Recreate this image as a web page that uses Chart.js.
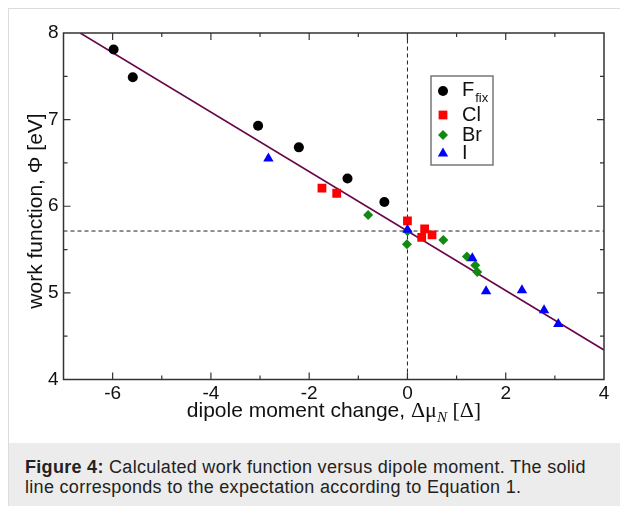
<!DOCTYPE html>
<html>
<head>
<meta charset="utf-8">
<script src="https://cdn.jsdelivr.net/npm/chart.js@4/dist/chart.umd.min.js"></script>
<style>
  html, body { margin: 0; padding: 0; background: #fff; width: 620px; height: 506px; overflow: hidden; }
  #frame { position: absolute; left: 8px; top: 8px; width: 640px; height: 520px; border-left: 1px solid #dcdcdc; border-top: 1px solid #dcdcdc; }
  #cap { position: absolute; left: 9px; top: 443px; width: 611px; height: 63px; background: #ececec;
         box-sizing: border-box; padding: 15px 0 0 16px; font: 18px/19.5px "Liberation Sans", Arial, sans-serif;
         letter-spacing: 0.3px; color: #222; white-space: nowrap; }
  #c { position: absolute; left: 0; top: 0; }
</style>
</head>
<body>
<div id="frame"></div>
<div id="cap"><b>Figure 4:</b> Calculated work function versus dipole moment. The solid<br>line corresponds to the expectation according to Equation 1.</div>
<canvas id="c" width="620" height="443"></canvas>
<script>
// ---- data ----
const fixX = [-5.98, -5.59, -3.04, -2.21, -1.22, -0.47];
const fixY = [7.81, 7.49, 6.93, 6.68, 6.32, 6.05];
const clX = [-1.74, -1.44, 0.00, 0.35, 0.50, 0.29];
const clY = [6.21, 6.15, 5.83, 5.74, 5.67, 5.64];
const brX = [-0.80, 0.00, -0.01, 0.73, 1.21, 1.38, 1.42];
const brY = [5.90, 5.71, 5.56, 5.61, 5.42, 5.32, 5.24];
const iX = [-2.83, 0.00, 1.32, 1.60, 2.33, 2.78, 3.07];
const iY = [6.55, 5.73, 5.40, 5.02, 5.03, 4.80, 4.64];
const fitX = [-6.66, 4.0];
const fitY = [8.0, 4.34];
const refX0 = 0;          // vertical dashed line
const refY0 = 5.714;      // horizontal dashed line
const xTickLabels = [-6, -4, -2, 0, 2, 4];
const yTickLabels = [4, 5, 6, 7, 8];
const seriesNames = ['F', 'Cl', 'Br', 'I'];

const pts = (xs, ys) => xs.map((x, i) => ({ x: x, y: ys[i] }));
const SANS = '"Liberation Sans", Arial, Helvetica, sans-serif';
const SERIF = '"Liberation Serif", "Times New Roman", serif';

const datasets = [
  { label: 'F', data: pts(fixX, fixY), pointStyle: 'circle', pointRadius: 5, backgroundColor: '#000', borderColor: '#000', borderWidth: 0, order: 4 },
  { label: 'Cl', data: pts(clX, clY), pointStyle: 'rect', pointRadius: 6.2, backgroundColor: '#ff0000', borderColor: '#ff0000', borderWidth: 0, order: 3 },
  { label: 'Br', data: pts(brX, brY), pointStyle: 'rectRot', pointRadius: 5, backgroundColor: '#108a10', borderColor: '#108a10', borderWidth: 0, order: 2 },
  { label: 'I', data: pts(iX, iY), pointStyle: 'triangle', pointRadius: 6, backgroundColor: '#0000ff', borderColor: '#0000ff', borderWidth: 0, order: 1 },
  { label: 'fit', type: 'line', data: pts(fitX, fitY), borderColor: '#67074a', borderWidth: 1.6, pointRadius: 0, fill: false, order: 10 },
  { label: 'h', type: 'line', data: pts([-7, 4], [refY0, refY0]), borderColor: '#222', borderWidth: 1, borderDash: [4, 3], pointRadius: 0, fill: false, order: 11 },
  { label: 'v', type: 'line', data: pts([refX0, refX0], [4, 8]), borderColor: '#222', borderWidth: 1, borderDash: [4, 3], pointRadius: 0, fill: false, order: 11 }
];

function drawMarker(ctx, ds, x, y) {
  ctx.save();
  ctx.fillStyle = ds.backgroundColor;
  ctx.strokeStyle = ds.borderColor;
  if (Chart.helpers && Chart.helpers.drawPoint) {
    ctx.lineWidth = 0.001;
    Chart.helpers.drawPoint(ctx, { pointStyle: ds.pointStyle, radius: ds.pointRadius, rotation: 0, borderWidth: 0 }, x, y);
  } else {
    ctx.beginPath(); ctx.arc(x, y, ds.pointRadius, 0, Math.PI * 2); ctx.fill();
  }
  ctx.restore();
}

const decor = {
  id: 'decor',
  afterDraw(chart) {
    const ctx = chart.ctx, a = chart.chartArea, xs = chart.scales.x, ys = chart.scales.y;
    ctx.save();
    // frame
    ctx.strokeStyle = '#333'; ctx.lineWidth = 1.5;
    ctx.strokeRect(a.left, a.top, a.right - a.left, a.bottom - a.top);
    // inward ticks on all sides
    ctx.lineWidth = 1.2;
    ctx.beginPath();
    xs.ticks.forEach(t => {
      const px = xs.getPixelForValue(t.value);
      if (px <= a.left + 1 || px >= a.right - 1) return;
      const len = xTickLabels.includes(t.value) ? 7 : 4;
      ctx.moveTo(px, a.bottom); ctx.lineTo(px, a.bottom - len);
      ctx.moveTo(px, a.top); ctx.lineTo(px, a.top + len);
    });
    ys.ticks.forEach(t => {
      const py = ys.getPixelForValue(t.value);
      if (py <= a.top + 1 || py >= a.bottom - 1) return;
      const len = yTickLabels.includes(t.value) ? 7 : 4;
      ctx.moveTo(a.left, py); ctx.lineTo(a.left + len, py);
      ctx.moveTo(a.right, py); ctx.lineTo(a.right - len, py);
    });
    ctx.stroke();

    // y title
    ctx.fillStyle = '#111';
    ctx.save();
    ctx.translate(42, 211);
    ctx.rotate(-Math.PI / 2);
    ctx.font = '21px ' + SANS;
    ctx.textAlign = 'center'; ctx.textBaseline = 'alphabetic';
    ctx.fillText('work function, \u03A6 [eV]', 0, 0);
    ctx.restore();

    // x title (mixed fonts)
    const parts = [
      { t: 'dipole moment change, ', f: '21px ' + SANS, dy: 0 },
      { t: '\u0394\u03BC', f: '22px ' + SERIF, dy: 0 },
      { t: 'N', f: 'italic 15px ' + SERIF, dy: 5 },
      { t: ' [\u0394]', f: '22px ' + SERIF, dy: 0 }
    ];
    let w = 0;
    parts.forEach(p => { ctx.font = p.f; p.w = ctx.measureText(p.t).width; w += p.w; });
    let x0 = 334 - w / 2;
    ctx.textAlign = 'left'; ctx.textBaseline = 'alphabetic';
    parts.forEach(p => { ctx.font = p.f; ctx.fillText(p.t, x0, 416.5 + p.dy); x0 += p.w; });

    // legend
    ctx.strokeStyle = '#777'; ctx.lineWidth = 1.5;
    ctx.strokeRect(431, 76, 62, 89);
    const rows = [91, 115, 135, 153.5];
    const bases = [96, 120.5, 140.5, 159];
    for (let i = 0; i < 4; i++) {
      drawMarker(ctx, chart.data.datasets[i], 443, rows[i]);
      ctx.fillStyle = '#111';
      ctx.font = '20px ' + SANS;
      ctx.fillText(seriesNames[i], 462, bases[i]);
      if (i === 0) {
        const fw = ctx.measureText('F').width;
        ctx.font = '13px ' + SANS;
        ctx.fillText('fix', 462 + fw + 1, 101.5);
      }
    }
    ctx.restore();
  }
};

new Chart(document.getElementById('c'), {
  type: 'scatter',
  data: { datasets: datasets },
  options: {
    responsive: false,
    animation: false,
    devicePixelRatio: 1,
    layout: { padding: { left: 0, top: 33, right: 16, bottom: 0 } },
    plugins: { legend: { display: false }, tooltip: { enabled: false } },
    scales: {
      x: {
        type: 'linear', min: -7, max: 4,
        afterFit: s => { s.height = 63.5; },
        grid: { display: false, drawTicks: false },
        border: { display: false },
        ticks: {
          stepSize: 1, autoSkip: false, maxRotation: 0, padding: 3,
          color: '#111', font: { family: SANS, size: 19 },
          callback: v => xTickLabels.includes(v) ? String(v) : ''
        }
      },
      y: {
        type: 'linear', min: 4, max: 8,
        afterFit: s => { s.width = 63.5; },
        grid: { display: false, drawTicks: false },
        border: { display: false },
        ticks: {
          stepSize: 0.5, autoSkip: false, padding: 5,
          color: '#111', font: { family: SANS, size: 19 },
          callback: v => yTickLabels.includes(v) ? String(v) : ''
        }
      }
    }
  },
  plugins: [decor]
});
</script>
</body>
</html>
